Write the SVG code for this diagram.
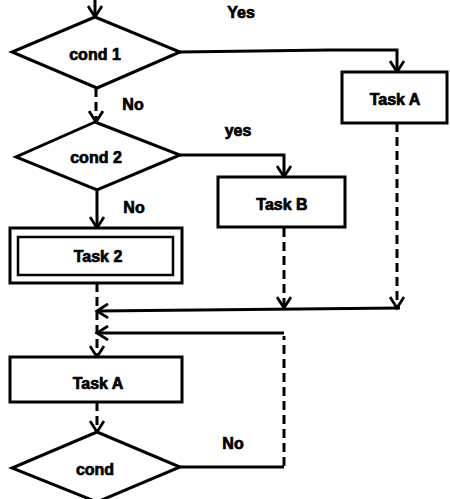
<svg xmlns="http://www.w3.org/2000/svg" width="450" height="499" viewBox="0 0 450 499">
<style>
.shape{fill:#fff;stroke:#000;stroke-width:3}
.inner{fill:none;stroke:#000;stroke-width:2.5}
.t{font-family:"Liberation Sans",Arial,sans-serif;font-weight:bold;font-size:16px;fill:#000;stroke:#000;stroke-width:0.7;text-anchor:middle;dominant-baseline:central}
.c{fill:none;stroke:#000;stroke-width:3}
.d{fill:none;stroke:#000;stroke-width:3;stroke-dasharray:9,5}
</style>
<defs>
<marker id="arr" markerWidth="16" markerHeight="16" refX="13" refY="8" orient="auto" markerUnits="userSpaceOnUse">
<path d="M2,1 L13,8 L2,15" fill="none" stroke="#000" stroke-width="2.8"/>
</marker>
</defs>
<g id="connectors">
<path class="c" d="M95,0 V17" marker-end="url(#arr)"/>
<path class="c" d="M180,52 L330,50 H397 V72" marker-end="url(#arr)"/>
<path class="d" d="M96,88 V122" marker-end="url(#arr)"/>
<path class="c" d="M180,155 H284 V177" marker-end="url(#arr)"/>
<path class="c" d="M97,190 V228" marker-end="url(#arr)"/>
<path class="d" d="M397,123 V308" marker-end="url(#arr)"/>
<path class="d" d="M284,228 V308" marker-end="url(#arr)"/>
<path class="c" d="M400,308 L97,311" marker-end="url(#arr)"/>
<path class="d" d="M97,283 V357" marker-end="url(#arr)"/>
<path class="c" d="M180,467 H284"/>
<path class="d" d="M284,466 V336"/>
<path class="c" d="M284,333 H97" marker-end="url(#arr)"/>
<path class="d" d="M97,402 V432" marker-end="url(#arr)"/>
<text class="t" x="241" y="12">Yes</text>
<text class="t" x="133" y="104">No</text>
<text class="t" x="238" y="130">yes</text>
<text class="t" x="134" y="207">No</text>
<text class="t" x="233" y="443">No</text>
</g>
<g id="cond1">
<polygon class="shape" points="95,17 180,52 97,88 12,52"/>
<text class="t" x="95" y="54">cond 1</text>
</g>
<g id="taskA1">
<rect class="shape" x="342" y="72" width="105" height="51"/>
<text class="t" x="395" y="99">Task A</text>
</g>
<g id="cond2">
<polygon class="shape" points="95,122 180,155 97,190 16,157"/>
<text class="t" x="96" y="157">cond 2</text>
</g>
<g id="taskB">
<rect class="shape" x="218" y="177" width="127" height="50"/>
<text class="t" x="282" y="204">Task B</text>
</g>
<g id="task2">
<rect class="shape" x="10" y="228" width="172" height="55"/>
<rect class="inner" x="18" y="237" width="155" height="38"/>
<text class="t" x="98" y="256">Task 2</text>
</g>
<g id="taskA2">
<rect class="shape" x="10" y="357" width="172" height="45"/>
<text class="t" x="98" y="383">Task A</text>
</g>
<g id="cond">
<polygon class="shape" points="97,432 180,467 97,502 12,468"/>
<text class="t" x="95" y="469">cond</text>
</g>
</svg>
